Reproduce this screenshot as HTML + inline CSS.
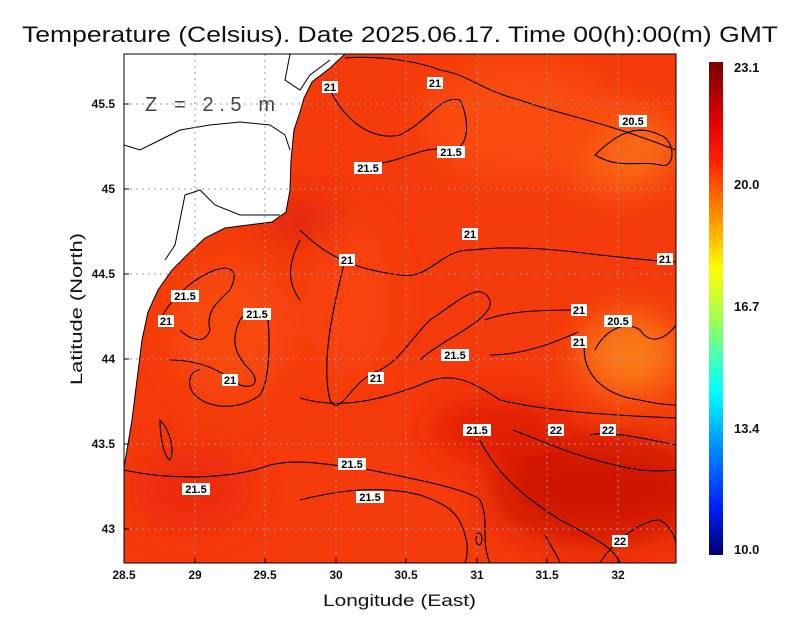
<!DOCTYPE html>
<html><head><meta charset="utf-8"><style>
body{margin:0;background:#fff;}
svg{display:block;font-family:"Liberation Sans",sans-serif;}
</style></head><body>
<svg width="800" height="618" viewBox="0 0 800 618" xmlns="http://www.w3.org/2000/svg">
<defs>
<clipPath id="pc"><rect x="124" y="54" width="552" height="509"/></clipPath>
<filter id="bl" x="-50%" y="-50%" width="200%" height="200%"><feGaussianBlur stdDeviation="18"/></filter>
<linearGradient id="cb" x1="0" y1="0" x2="0" y2="1">
<stop offset="0" stop-color="#780000"/><stop offset="0.12" stop-color="#e00000"/>
<stop offset="0.2" stop-color="#ff2000"/><stop offset="0.28" stop-color="#ff7000"/>
<stop offset="0.36" stop-color="#ffc000"/><stop offset="0.42" stop-color="#ffff00"/>
<stop offset="0.52" stop-color="#a0ff50"/><stop offset="0.62" stop-color="#30ffd0"/>
<stop offset="0.67" stop-color="#00ffff"/><stop offset="0.78" stop-color="#0090ff"/>
<stop offset="0.9" stop-color="#0020ff"/><stop offset="1" stop-color="#000070"/>
</linearGradient>
</defs>
<text x="22" y="42" font-size="22" textLength="756" lengthAdjust="spacingAndGlyphs" fill="#111">Temperature (Celsius). Date 2025.06.17. Time 00(h):00(m) GMT</text>
<g clip-path="url(#pc)">
<rect x="124" y="54" width="552" height="509" fill="#f53a0b"/>
<g filter="url(#bl)">
<ellipse cx="620" cy="150" rx="60" ry="40" fill="#fb6a12"/>
<ellipse cx="630" cy="355" rx="50" ry="40" fill="#fb7a14"/>
<ellipse cx="520" cy="120" rx="100" ry="60" fill="#f94c0e"/>
<ellipse cx="600" cy="490" rx="110" ry="55" fill="#d01205"/>
<ellipse cx="500" cy="430" rx="70" ry="30" fill="#e01c06"/>
<ellipse cx="230" cy="330" rx="60" ry="70" fill="#f84a0e"/>
<ellipse cx="190" cy="490" rx="60" ry="40" fill="#ec2a08"/>
<ellipse cx="350" cy="300" rx="40" ry="80" fill="#f9420d"/>
<ellipse cx="300" cy="220" rx="40" ry="20" fill="#e02008"/>
</g>
<path d="M124,54 L345,54 L330,68 L312,82 L304,98 L300,112 L294,130 L291,160 L290,190 L286,212 L272,222 L225,228 L205,238 L188,254 L172,270 L158,290 L148,312 L142,340 L137,380 L132,420 L124,468 Z" fill="#fff"/>
<path d="M345,54 L330,68 L312,82 L304,98 L300,112 L294,130 L291,160 L290,190 L286,212 L272,222 L225,228 L205,238 L188,254 L172,270 L158,290 L148,312 L142,340 L137,380 L132,420 L124,468" fill="none" stroke="#000"/>
<path d="M124,145 L140,150 L160,140 L180,130 L210,125 L240,122 L270,125 L285,135 L290,150" fill="none" stroke="#000"/>
<path d="M280,215 L240,215 L215,205 L200,190 L185,195 L180,220 L175,245 L165,260" fill="none" stroke="#000"/>
<path d="M290,54 L285,80 L300,90 L310,75 L330,60" fill="none" stroke="#000"/>
<g fill="none" stroke="#000" stroke-width="1.1">
<path d="M345,58 C380,55 420,62 440,70 C470,75 480,90 520,100 C560,115 600,120 676,150"/>
<path d="M330,90 C350,130 380,140 400,135 C430,120 440,95 460,100 C470,120 470,150 450,150 C420,145 410,160 370,165"/>
<path d="M595,155 C620,130 640,125 660,135 C676,140 676,170 660,165 C640,160 620,170 595,155 Z"/>
<path d="M300,230 C330,260 360,270 400,275 C430,280 440,250 470,250 C520,245 560,250 600,255 C630,258 660,262 676,262"/>
<path d="M300,240 C290,260 285,280 300,300"/>
<path d="M345,260 C335,300 320,360 330,400 C340,420 350,380 380,370 C400,360 410,340 430,320 C460,300 480,280 490,300 C495,320 440,340 420,360"/>
<path d="M160,320 C170,300 190,280 215,270 C230,265 240,270 230,290 C220,300 205,310 210,330 C205,345 190,340 180,330"/>
<path d="M170,360 C200,360 220,370 240,385 C255,390 260,380 250,370 C235,355 230,340 240,320 C250,305 265,310 268,320 C270,340 270,380 260,395 C240,410 210,410 195,395 C185,385 190,370 200,370"/>
<path d="M490,355 C520,355 550,345 578,332"/>
<path d="M485,320 C510,310 550,310 578,310"/>
<path d="M595,350 C605,330 625,320 640,330 C650,345 665,340 676,325"/>
<path d="M585,340 C580,370 600,395 640,400 C660,405 676,405 676,405"/>
<path d="M300,398 C340,410 380,400 420,385 C450,370 470,380 500,400 C540,410 600,415 676,418"/>
<path d="M513,430 C540,440 580,460 640,470 C660,472 676,470 676,470"/>
<path d="M590,435 C610,430 650,440 676,445"/>
<path d="M124,470 C170,480 230,480 270,465 C300,458 330,465 370,470 C420,480 470,490 480,500 C490,520 480,540 490,563"/>
<path d="M480,440 C500,480 530,500 560,520 C600,540 615,550 620,563"/>
<path d="M600,563 C610,545 640,520 660,520 C676,530 676,545 676,545"/>
<path d="M300,500 C340,490 380,485 420,495 C450,505 460,515 465,535 C470,550 465,563 465,563"/>
<path d="M160,420 C170,430 175,450 170,460 C162,455 160,430 160,420 Z"/>
<path d="M545,535 C550,545 560,560 560,563"/>
<ellipse cx="479" cy="539" rx="3" ry="6"/>
</g>
</g>
<g stroke="#999" stroke-width="1" stroke-dasharray="2,4">
<path d="M195,54V563M265,54V563M336,54V563M406,54V563M477,54V563M547,54V563M618,54V563"/>
<path d="M124,104H676M124,189H676M124,274H676M124,359H676M124,444H676M124,529H676"/>
</g>
<rect x="124" y="54" width="552" height="509" fill="none" stroke="#000" stroke-width="1"/>
<text x="145" y="111" font-size="20" fill="#444" textLength="130" lengthAdjust="spacing">Z = 2.5 m</text>
<g font-size="11" text-anchor="middle" font-weight="bold">
<g fill="#fff">
<rect x="322" y="81" width="16" height="12"/><rect x="427" y="77" width="16" height="12"/>
<rect x="619" y="115" width="28" height="12"/><rect x="354" y="162" width="28" height="12"/>
<rect x="437" y="146" width="28" height="12"/><rect x="462" y="228" width="16" height="12"/>
<rect x="339" y="254" width="16" height="12"/><rect x="657" y="253" width="16" height="12"/>
<rect x="171" y="290" width="28" height="12"/><rect x="243" y="308" width="28" height="12"/>
<rect x="158" y="315" width="16" height="12"/><rect x="571" y="304" width="16" height="12"/>
<rect x="604" y="315" width="28" height="12"/><rect x="571" y="336" width="16" height="12"/>
<rect x="441" y="349" width="28" height="12"/><rect x="222" y="374" width="16" height="12"/>
<rect x="368" y="372" width="16" height="12"/><rect x="463" y="424" width="28" height="12"/>
<rect x="548" y="424" width="16" height="12"/><rect x="600" y="424" width="16" height="12"/>
<rect x="338" y="458" width="28" height="12"/><rect x="182" y="483" width="28" height="12"/>
<rect x="356" y="491" width="28" height="12"/><rect x="612" y="535" width="16" height="12"/>
</g>
<text x="330" y="91">21</text><text x="435" y="87">21</text><text x="633" y="125">20.5</text>
<text x="368" y="172">21.5</text><text x="451" y="156">21.5</text><text x="470" y="238">21</text>
<text x="347" y="264">21</text><text x="665" y="263">21</text><text x="185" y="300">21.5</text>
<text x="257" y="318">21.5</text><text x="166" y="325">21</text><text x="579" y="314">21</text>
<text x="618" y="325">20.5</text><text x="579" y="346">21</text><text x="455" y="359">21.5</text>
<text x="230" y="384">21</text><text x="376" y="382">21</text><text x="477" y="434">21.5</text>
<text x="556" y="434">22</text><text x="608" y="434">22</text><text x="352" y="468">21.5</text>
<text x="196" y="493">21.5</text><text x="370" y="501">21.5</text><text x="620" y="545">22</text>
</g>
<g font-size="12" fill="#111" text-anchor="middle" font-weight="bold">
<text x="124" y="579">28.5</text><text x="195" y="579">29</text><text x="265" y="579">29.5</text>
<text x="336" y="579">30</text><text x="406" y="579">30.5</text><text x="477" y="579">31</text>
<text x="547" y="579">31.5</text><text x="618" y="579">32</text>
</g>
<g font-size="12" fill="#111" text-anchor="end" font-weight="bold">
<text x="115" y="108">45.5</text><text x="115" y="193">45</text><text x="115" y="278">44.5</text>
<text x="115" y="363">44</text><text x="115" y="448">43.5</text><text x="115" y="533">43</text>
</g>
<g stroke="#000"><path d="M195,563v-5M265,563v-5M336,563v-5M406,563v-5M477,563v-5M547,563v-5M618,563v-5M124,104h5M124,189h5M124,274h5M124,359h5M124,444h5M124,529h5"/></g>
<text x="323" y="606" font-size="17" textLength="153" lengthAdjust="spacingAndGlyphs" fill="#111">Longitude (East)</text>
<text x="82" y="309" font-size="17" text-anchor="middle" fill="#111" transform="rotate(-90 82 309)" textLength="152" lengthAdjust="spacingAndGlyphs">Latitude (North)</text>
<rect x="709" y="62" width="14" height="493" fill="url(#cb)"/>
<g font-size="13" fill="#111" font-weight="bold">
<text x="734" y="72">23.1</text><text x="734" y="189">20.0</text><text x="734" y="311">16.7</text>
<text x="734" y="433">13.4</text><text x="734" y="554">10.0</text>
</g>
</svg>
</body></html>
